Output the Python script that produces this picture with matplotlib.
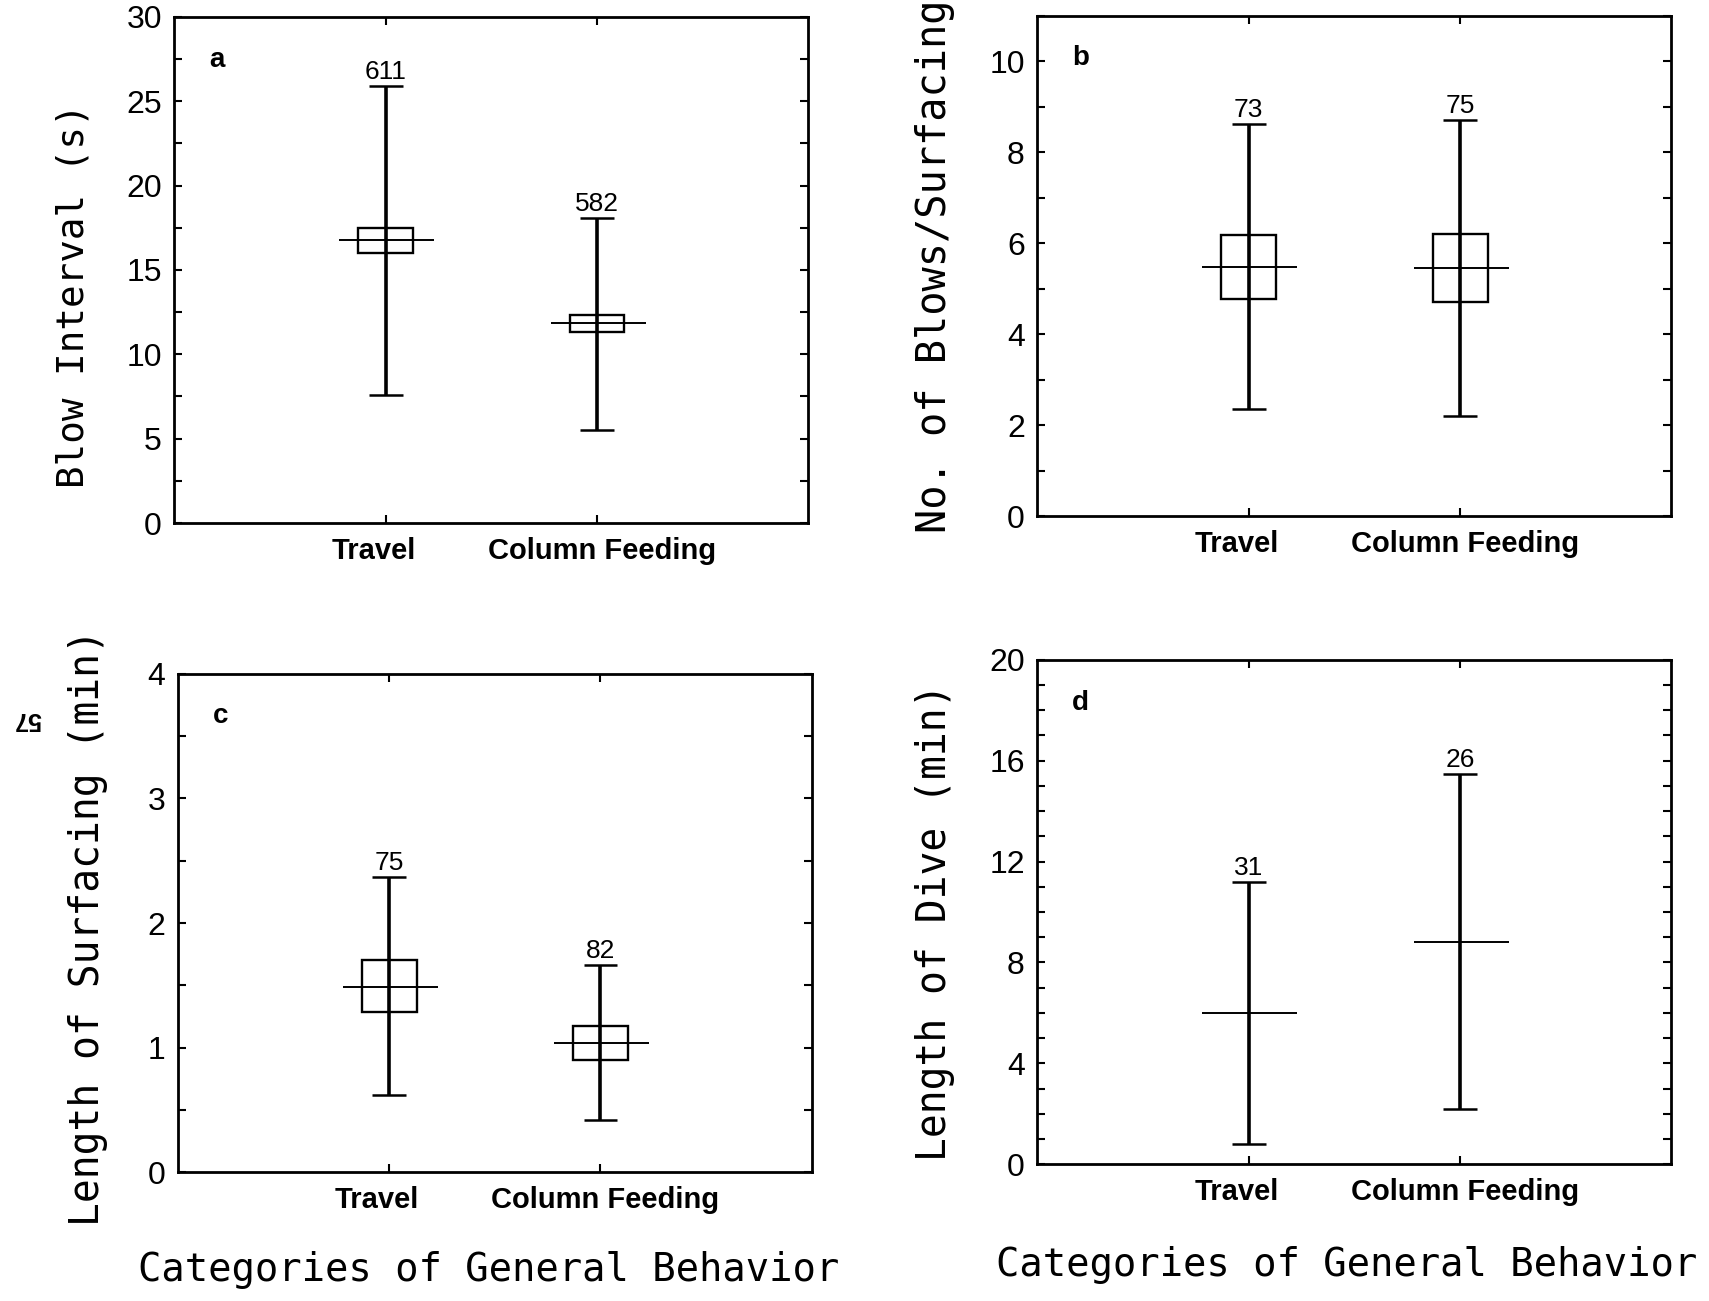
import numpy as np
import matplotlib
matplotlib.use("Agg")
import matplotlib.pyplot as plt
from matplotlib.patches import Rectangle
from matplotlib.ticker import MultipleLocator
from matplotlib.transforms import ScaledTranslation

categories = ["Travel", "Column Feeding"]

# a: blow interval (s)
blow_lo = [7.6, 5.5]
blow_hi = [25.9, 18.1]
blow_box_lo = [16.0, 11.3]
blow_box_hi = [17.5, 12.35]
blow_mean = [16.8, 11.85]
blow_n = [611, 582]

# b: number of blows per surfacing
nblow_lo = [2.37, 2.2]
nblow_hi = [8.61, 8.71]
nblow_box_lo = [4.78, 4.71]
nblow_box_hi = [6.19, 6.21]
nblow_mean = [5.49, 5.45]
nblow_n = [73, 75]

# c: length of surfacing (min)
surf_lo = [0.62, 0.42]
surf_hi = [2.37, 1.66]
surf_box_lo = [1.29, 0.90]
surf_box_hi = [1.70, 1.17]
surf_mean = [1.49, 1.04]
surf_n = [75, 82]

# d: length of dive (min), no box drawn
dive_lo = [0.8, 2.2]
dive_hi = [11.2, 15.45]
dive_mean = [6.0, 8.8]
dive_n = [31, 26]

SANS = ["Liberation Sans", "DejaVu Sans"]
MONO = ["DejaVu Sans Mono"]


def draw_panel(fig, ax, lo, hi, box_lo, box_hi, mean, n, ylim, major, minor,
               ylabel, ylabel_size, letter, label_x, label_y):
    for i in range(len(categories)):
        x = i + 1
        ax.vlines(x, lo[i], hi[i], color="black", lw=2.6)
        ax.hlines([lo[i], hi[i]], x - 0.08, x + 0.08, color="black", lw=1.8)
        if box_lo is not None:
            ax.add_patch(Rectangle((x - 0.13, box_lo[i]), 0.26, box_hi[i] - box_lo[i],
                                   fill=False, ec="black", lw=1.7))
        ax.hlines(mean[i], x - 0.22, x + 0.23, color="black", lw=1.4)
        ax.text(x, hi[i] + (ylim[1] - ylim[0]) * 0.004, str(n[i]), ha="center", va="bottom",
                fontsize=19, family=SANS)

    ax.set_xlim(0, 3)
    ax.set_ylim(*ylim)
    ax.set_xticks([1, 2], categories, fontsize=21, fontweight="bold", family=SANS)
    ax.yaxis.set_major_locator(MultipleLocator(major))
    ax.yaxis.set_minor_locator(MultipleLocator(minor))
    for lab in ax.get_yticklabels():
        lab.set_family(SANS)
        lab.set_fontsize(23)
    ax.tick_params(axis="both", which="both", direction="in", top=True, right=True,
                   length=6, width=1.5)
    ax.tick_params(axis="y", pad=9)
    ax.tick_params(axis="x", pad=10)
    # labels in the original sit a bit off the tick marks
    for lab, dx in zip(ax.get_xticklabels(), [-12, 5]):
        lab.set_transform(lab.get_transform() + ScaledTranslation(dx / 100, 0, fig.dpi_scale_trans))
    for s in ax.spines.values():
        s.set_linewidth(2)
    ax.set_ylabel(ylabel, fontsize=ylabel_size, family=MONO)
    ax.yaxis.set_label_coords(label_x, label_y)
    ax.text(0.055, 0.915, letter, transform=ax.transAxes, fontsize=20, fontweight="bold",
            family=SANS, ha="left", va="center")


def main():
    fig = plt.figure(figsize=(17.09, 13.01), dpi=100)

    ax_a = fig.add_axes([0.102, 0.598, 0.371, 0.389])
    ax_b = fig.add_axes([0.607, 0.603, 0.371, 0.385])
    ax_c = fig.add_axes([0.104, 0.099, 0.371, 0.383])
    ax_d = fig.add_axes([0.607, 0.105, 0.371, 0.388])

    draw_panel(fig, ax_a, blow_lo, blow_hi, blow_box_lo, blow_box_hi, blow_mean, blow_n,
               (0, 30), 5, 2.5, "Blow Interval (s)", 27, "a", -0.13, 0.45)
    draw_panel(fig, ax_b, nblow_lo, nblow_hi, nblow_box_lo, nblow_box_hi, nblow_mean, nblow_n,
               (0, 11), 2, 1, "No. of Blows/Surfacing", 29, "b", -0.13, 0.5)
    draw_panel(fig, ax_c, surf_lo, surf_hi, surf_box_lo, surf_box_hi, surf_mean, surf_n,
               (0, 4), 1, 0.5, "Length of Surfacing (min)", 28.5, "c", -0.11, 0.49)
    draw_panel(fig, ax_d, dive_lo, dive_hi, None, None, dive_mean, dive_n,
               (0, 20), 4, 1, "Length of Dive (min)", 28.5, "d", -0.13, 0.48)

    fig.text(0.286, 1 - 1270 / 1301, "Categories of General Behavior", fontsize=28,
             family=MONO, ha="center", va="center")
    fig.text(0.788, 1 - 1265 / 1301, "Categories of General Behavior", fontsize=28,
             family=MONO, ha="center", va="center")
    fig.text(27 / 1709, 1 - 719 / 1301, "57", fontsize=18, fontweight="bold", rotation=180,
             family=SANS, ha="center", va="center")

    fig.savefig("out.png", dpi=100, facecolor="white")


if __name__ == "__main__":
    main()
